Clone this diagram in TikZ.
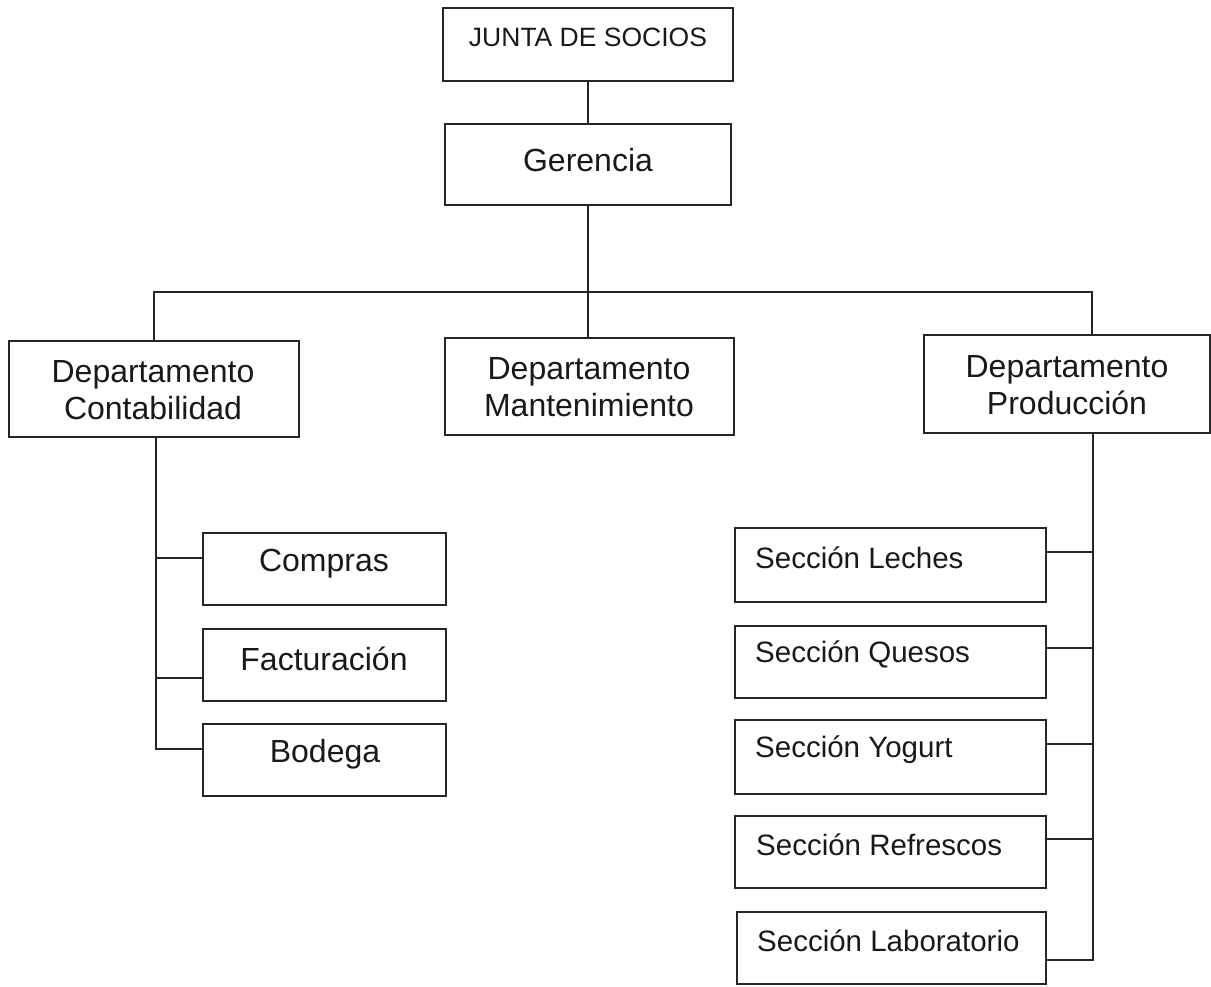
\documentclass[tikz,border=0pt]{standalone}
\usepackage{fontspec}
\setmainfont{Liberation Sans}
\begin{document}
\begin{tikzpicture}[x=1pt,y=-1pt,
  box/.style={draw=black!85,line width=1.6pt,rectangle,inner sep=0pt},
  lbl/.style={inner sep=0pt,font=\fontsize{32}{37}\selectfont,text=black!90,align=center},
  slbl/.style={inner sep=0pt,font=\fontsize{29.5}{34}\selectfont,text=black!90,anchor=west},
  conn/.style={draw=black!85,line width=1.6pt}]
\useasboundingbox (0,0) rectangle (1211,986);
\node[box,minimum width=290pt,minimum height=73pt] (junta) at (588,44.5) {};
\node[lbl,font=\fontsize{26.5}{30}\selectfont] at (588,37) {JUNTA DE SOCIOS};
\node[box,minimum width=286pt,minimum height=81pt] (ger) at (588,164.5) {};
\node[lbl] at (588,160) {Gerencia};
\node[box,minimum width=290pt,minimum height=96pt] (conta) at (154,389) {};
\node[lbl] at (153,390) {Departamento\\Contabilidad};
\node[box,minimum width=289pt,minimum height=97pt] (mant) at (589.5,386.5) {};
\node[lbl] at (589,387) {Departamento\\Mantenimiento};
\node[box,minimum width=286pt,minimum height=98pt] (prod) at (1067,384) {};
\node[lbl] at (1067,385) {Departamento\\Producción};
% contabilidad children
\node[box,minimum width=243pt,minimum height=72pt] (compras) at (324.5,569) {};
\node[lbl] at (324,564) {Compras};
\node[box,minimum width=243pt,minimum height=72pt] (fact) at (324.5,665) {};
\node[lbl] at (324,659) {Facturación};
\node[box,minimum width=243pt,minimum height=72pt] (bod) at (324.5,760) {};
\node[lbl] at (325,754) {Bodega};
% produccion children
\node[box,minimum width=311pt,minimum height=74pt] (lec) at (890.5,565) {};
\node[slbl] at (755,558) {Sección Leches};
\node[box,minimum width=311pt,minimum height=72pt] (que) at (890.5,662) {};
\node[slbl] at (755,654) {Sección Quesos};
\node[box,minimum width=311pt,minimum height=74pt] (yog) at (890.5,757) {};
\node[slbl] at (755,750) {Sección Yogurt};
\node[box,minimum width=311pt,minimum height=72pt] (ref) at (890.5,852) {};
\node[slbl] at (756,845) {Sección Refrescos};
\node[box,minimum width=309pt,minimum height=72pt] (lab) at (891.5,948) {};
\node[slbl] at (757,941) {Sección Laboratorio};
% connectors
\coordinate (busL) at (154,292);
\coordinate (busM) at (588,292);
\coordinate (busR) at (1092,292);
\draw[conn] (junta.south) -- (ger.north);
\draw[conn] (ger.south) -- (busM);
\draw[conn] (conta.north) -- (busL) -- (busR) -- (busR |- prod.north);
\draw[conn] (busM) -- (busM |- mant.north);
% left spine
\coordinate (ls) at (156,437);
\draw[conn] (ls |- conta.south) -- (156,749) -- (bod.west |- 0,749);
\draw[conn] (156,558) -- (compras.west |- 0,558);
\draw[conn] (156,678) -- (fact.west |- 0,678);
% right spine
\draw[conn] (1093,433) -- (1093,960) -- (lab.east |- 0,960);
\draw[conn] (1093,552) -- (lec.east |- 0,552);
\draw[conn] (1093,648) -- (que.east |- 0,648);
\draw[conn] (1093,744) -- (yog.east |- 0,744);
\draw[conn] (1093,839) -- (ref.east |- 0,839);
\end{tikzpicture}
\end{document}
